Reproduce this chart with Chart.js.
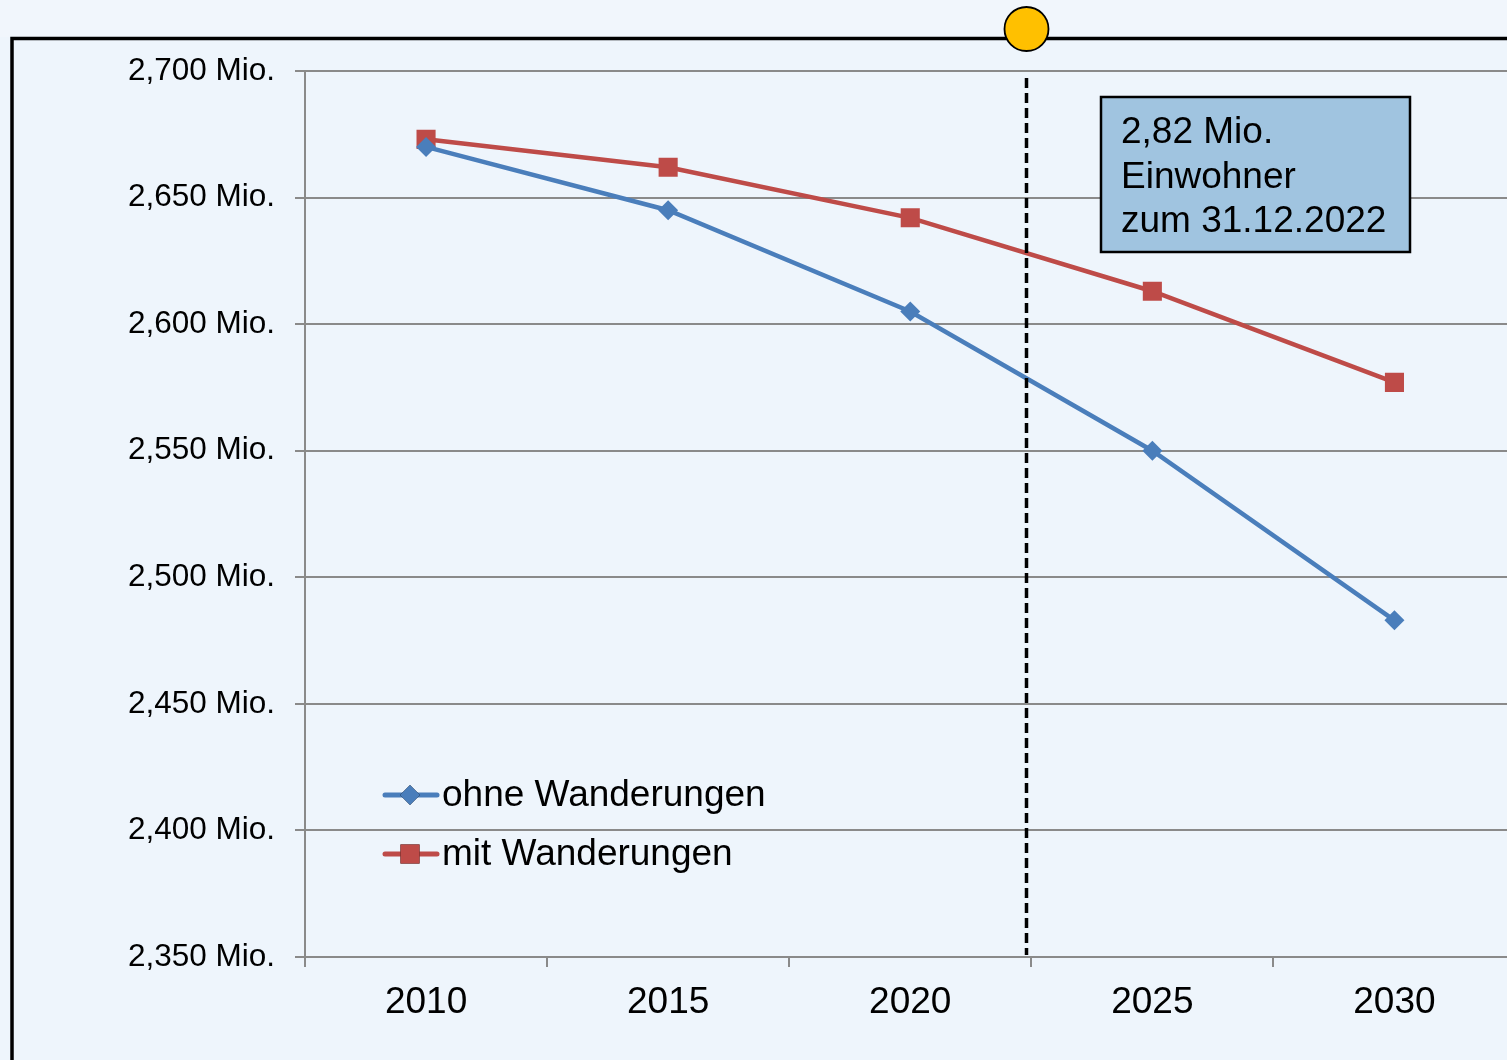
<!DOCTYPE html>
<html>
<head>
<meta charset="utf-8">
<script src="https://cdn.jsdelivr.net/npm/chart.js@4.4.1/dist/chart.umd.min.js"></script>
<style>
    html, body { margin: 0; padding: 0; overflow: hidden; background: #eef5fc; }
    #chart { position: absolute; left: 0; top: 0; }
</style>
</head>
<body>
<canvas id="chart" width="1529" height="1060"></canvas>
<script>
// Data
const years = ['2010', '2015', '2020', '2025', '2030'];
const ohneWanderungen = [2.670, 2.645, 2.605, 2.550, 2.483];
const mitWanderungen = [2.673, 2.662, 2.642, 2.613, 2.577];
const seriesLabels = ['ohne Wanderungen', 'mit Wanderungen'];
const yTicks = [2.35, 2.40, 2.45, 2.50, 2.55, 2.60, 2.65, 2.70];
const markerYear = 2022.4;
const infoLines = ['2,82 Mio.', 'Einwohner', 'zum 31.12.2022'];

const FONT = '"Liberation Sans", Arial, sans-serif';
const GRID = '#8a8a8a';

// x pixel of the "today" marker, from the category scale
function markerX(chart) {
    const idx = (markerYear - parseInt(years[0])) / 5;
    return chart.scales.x.getPixelForValue(idx);
}

const decoPlugin = {
    id: 'deco',
    beforeDraw(chart) {
        const ctx = chart.ctx;
        ctx.save();
        ctx.fillStyle = '#eef5fc';
        ctx.fillRect(0, 0, chart.width, chart.height);
        ctx.fillStyle = '#f1f6fc';
        ctx.fillRect(0, 0, chart.width, 37);
        ctx.restore();
    },
    afterDatasetsDraw(chart) {
        const ctx = chart.ctx;
        const area = chart.chartArea;
        const mx = Math.round(markerX(chart)) + 0.5;
        ctx.save();

        // dashed vertical line
        ctx.strokeStyle = '#000';
        ctx.lineWidth = 3.5;
        ctx.setLineDash([10, 5]);
        ctx.beginPath();
        ctx.moveTo(mx, area.top + 7);
        ctx.lineTo(mx, area.bottom - 2);
        ctx.stroke();
        ctx.setLineDash([]);

        // frame
        ctx.lineWidth = 3.5;
        ctx.beginPath();
        ctx.moveTo(12, 1060);
        ctx.lineTo(12, 38.5);
        ctx.lineTo(chart.width, 38.5);
        ctx.stroke();

        // yellow circle
        ctx.fillStyle = '#ffc000';
        ctx.lineWidth = 1.8;
        ctx.beginPath();
        ctx.arc(mx, 29, 22, 0, Math.PI * 2);
        ctx.fill();
        ctx.stroke();

        // info box
        ctx.fillStyle = '#a0c4e0';
        ctx.fillRect(1101, 97, 309, 155);
        ctx.lineWidth = 2.5;
        ctx.strokeRect(1101, 97, 309, 155);
        ctx.fillStyle = '#000';
        ctx.font = '37px ' + FONT;
        ctx.textBaseline = 'middle';
        ctx.textAlign = 'left';
        infoLines.forEach((t, i) => ctx.fillText(t, 1121, 133 + i * 44.5));

        // legend
        chart.data.datasets.forEach((ds, i) => {
            const y = 795 + i * 59;
            ctx.strokeStyle = ds.borderColor;
            ctx.lineWidth = 5;
            ctx.lineCap = 'round';
            ctx.beginPath();
            ctx.moveTo(385, y);
            ctx.lineTo(437, y);
            ctx.stroke();
            Chart.helpers.drawPoint(ctx, {
                pointStyle: ds.pointStyle,
                radius: ds.pointRadius,
                rotation: 0,
                borderWidth: 0
            }, 410, y);
            ctx.fillStyle = ds.backgroundColor;
            ctx.fill();
            ctx.fillStyle = '#000';
            ctx.font = '37px ' + FONT;
            ctx.fillText(ds.label, 442, y + 1);
        });

        ctx.restore();
    }
};

new Chart(document.getElementById('chart'), {
    type: 'line',
    data: {
        labels: years,
        datasets: [
            {
                label: seriesLabels[0],
                data: ohneWanderungen,
                borderColor: '#4a7ebb',
                backgroundColor: '#4a7ebb',
                borderWidth: 4.5,
                pointStyle: 'rectRot',
                pointRadius: 10,
                pointBorderWidth: 0,
                tension: 0
            },
            {
                label: seriesLabels[1],
                data: mitWanderungen,
                borderColor: '#be4b48',
                backgroundColor: '#be4b48',
                borderWidth: 4.5,
                pointStyle: 'rect',
                pointRadius: 13.5,
                pointBorderWidth: 0,
                tension: 0
            }
        ]
    },
    options: {
        responsive: false,
        animation: false,
        layout: { padding: { left: 0, right: 3, top: 71, bottom: 0 } },
        plugins: {
            legend: { display: false },
            tooltip: { enabled: false }
        },
        scales: {
            x: {
                offset: true,
                afterFit: (scale) => { scale.height = 103; },
                grid: {
                    offset: true,
                    drawOnChartArea: false,
                    drawTicks: true,
                    tickLength: 10,
                    color: GRID,
                    lineWidth: 2
                },
                border: { color: GRID, width: 2 },
                ticks: {
                    color: '#000',
                    font: { family: FONT, size: 37 },
                    padding: 14,
                    maxRotation: 0
                }
            },
            y: {
                min: 2.35,
                max: 2.70,
                afterFit: (scale) => { scale.width = 305; },
                afterBuildTicks: (scale) => { scale.ticks = yTicks.map(v => ({ value: v })); },
                grid: {
                    color: GRID,
                    lineWidth: 2,
                    tickLength: 10
                },
                border: { color: GRID, width: 2 },
                ticks: {
                    color: '#000',
                    font: { family: FONT, size: 31.5 },
                    padding: 20,
                    callback: (v) => v.toFixed(3).replace('.', ',') + ' Mio.'
                }
            }
        }
    },
    plugins: [decoPlugin]
});
</script>
</body>
</html>
